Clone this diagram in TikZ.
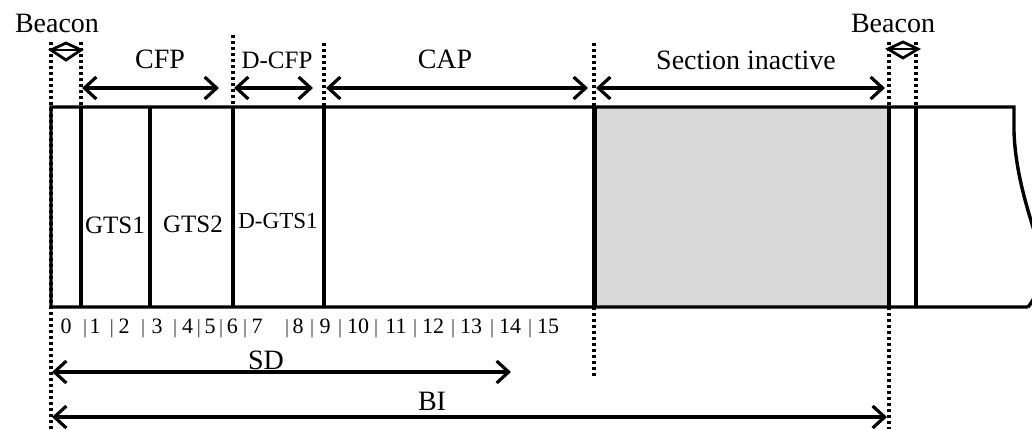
\documentclass[tikz,border=0pt]{standalone}
\usepackage{fontspec}
\setmainfont{Liberation Serif}
\usetikzlibrary{arrows.meta}
\newcommand{\slotbar}{{\fontsize{10}{13}\selectfont\color{black!80}|}}
\begin{document}
\begin{tikzpicture}[x=0.5pt,y=-0.5pt,
  frame/.style={line width=1.7pt},
  sep/.style={line width=1.7pt},
  thicksep/.style={line width=2.5pt},
  dots/.style={line width=1.6pt, dash pattern=on 1.5pt off 1.5pt},
  span/.style={line width=1.6pt, {Straight Barb[length=6pt,width=11pt]}-{Straight Barb[length=6pt,width=11pt]}},
  diam/.style={line width=1.4pt, line join=miter},
  lbl/.style={inner sep=0pt, anchor=base, font=\fontsize{14}{16}\selectfont},
  mlbl/.style={inner sep=0pt, anchor=base, font=\fontsize{12.5}{15}\selectfont},
  slbl/.style={inner sep=0pt, anchor=base, font=\fontsize{11.5}{14}\selectfont},
  num/.style={inner sep=0pt, anchor=base, font=\fontsize{11}{14}\selectfont},
  bar/.style={inner sep=0pt, anchor=base, font=\fontsize{10}{13}\selectfont, text=black!80}]
\useasboundingbox (0,0) rectangle (1032,429);
\clip (0,0) rectangle (1032,429);

% gray inactive section
\fill[black!15] (594,107) rectangle (889,307);

% main frame with torn right edge
\draw[frame, line join=miter] (1028,307) -- (51,307) -- (51,107) -- (1014,107) -- (1014,132)
  .. controls (1016,190) and (1040,240) .. (1042,262)
  .. controls (1042,285) and (1034,300) .. (1028,307);

% slot separators
\foreach \x/\n in {81/s1,150/s2,233/s3,324/s4,916/s6}{
  \coordinate (\n t) at (\x,107);
  \coordinate (\n b) at (\x,307);
  \draw[sep] (\n t) -- (\n b);
}
\coordinate (s5t) at (594,107); \coordinate (s5b) at (594,307);
\draw[thicksep] (s5t) -- (s5b);
\coordinate (s7t) at (889,107); \coordinate (s7b) at (889,307);
\draw[sep] (s7t) -- (s7b);

% dotted guides
\coordinate (d0a) at (51,42);  \coordinate (d0b) at (51,429);
\coordinate (d1a) at (81,42);  \coordinate (d1b) at (81,107);
\coordinate (d2a) at (233,35); \coordinate (d2b) at (233,107);
\coordinate (d3a) at (324,43); \coordinate (d3b) at (324,107);
\coordinate (d4a) at (594,43); \coordinate (d4b) at (594,107);
\coordinate (d4c) at (594,307); \coordinate (d4d) at (594,379);
\coordinate (d5a) at (889,42); \coordinate (d5b) at (889,107);
\coordinate (d5c) at (889,307); \coordinate (d5d) at (889,429);
\coordinate (d6a) at (916,42); \coordinate (d6b) at (916,107);
\draw[dots] (d0a) -- (d0b);
\draw[dots] (d1a) -- (d1b);
\draw[dots] (d2a) -- (d2b);
\draw[dots] (d3a) -- (d3b);
\draw[dots] (d4a) -- (d4b);
\draw[dots] (d4c) -- (d4d);
\draw[dots] (d5a) -- (d5b);
\draw[dots] (d5c) -- (d5d);
\draw[dots] (d6a) -- (d6b);

% beacon diamonds
\coordinate (bl1) at (51,50); \coordinate (bl2) at (81,50);
\draw[diam] (bl1) -- (66,43) -- (bl2) -- (66,60) -- cycle;
\draw[diam] (bl1) -- (bl2);
\coordinate (br1) at (888,49); \coordinate (br2) at (918,49);
\draw[diam] (br1) -- (903,42) -- (br2) -- (903,58) -- cycle;
\draw[diam] (br1) -- (br2);

% span arrows
\coordinate (cfpL) at (82,88);  \coordinate (cfpR) at (219,88);
\coordinate (dcfL) at (234,88); \coordinate (dcfR) at (313,88);
\coordinate (capL) at (326,88); \coordinate (capR) at (588,88);
\coordinate (siL) at (596,88);  \coordinate (siR) at (885,88);
\coordinate (sdL) at (52,372);  \coordinate (sdR) at (511,372);
\coordinate (biL) at (52,417);  \coordinate (biR) at (887,417);
\draw[span] (cfpL) -- (cfpR);
\draw[span] (dcfL) -- (dcfR);
\draw[span] (capL) -- (capR);
\draw[span] (siL) -- (siR);
\draw[span] (sdL) -- (sdR);
\draw[span] (biL) -- (biR);

% labels
\node[lbl] (beaconL) at (57,32) {Beacon};
\node[lbl] (beaconR) at (893,32) {Beacon};
\node[lbl] (cfp) at (160,68) {CFP};
\node[mlbl] (dcfp) at (277,68) {D-CFP};
\node[lbl] (cap) at (445,68) {CAP};
\node[lbl] (sect) at (746,69) {Section inactive};
\node[mlbl] (gts1) at (115,233) {GTS1};
\node[mlbl] (gts2) at (193,232) {GTS2};
\node[slbl] (dgts1) at (278,228) {D-GTS1};
\node[lbl] (sd) at (266,369) {SD};
\node[lbl] (bi) at (432,410) {BI};

% slot numbers
\foreach \x/\t [count=\i] in {66/0,95/1,124/2,157/3,257/7,298/8,325/9,358/10,396/11,433/12,471/13,510/14,548/15}{
  \node[num] (n\i) at (\x,333) {\t};
}
\node[num] (n456) at (210,333) {4\,\slotbar\,5\,\slotbar\,6};
\foreach \x [count=\i] in {85,112,143,175,245,287,312,340,376,415,453,492,530}{
  \node[bar] (b\i) at (\x,333) {|};
}
\end{tikzpicture}
\end{document}
